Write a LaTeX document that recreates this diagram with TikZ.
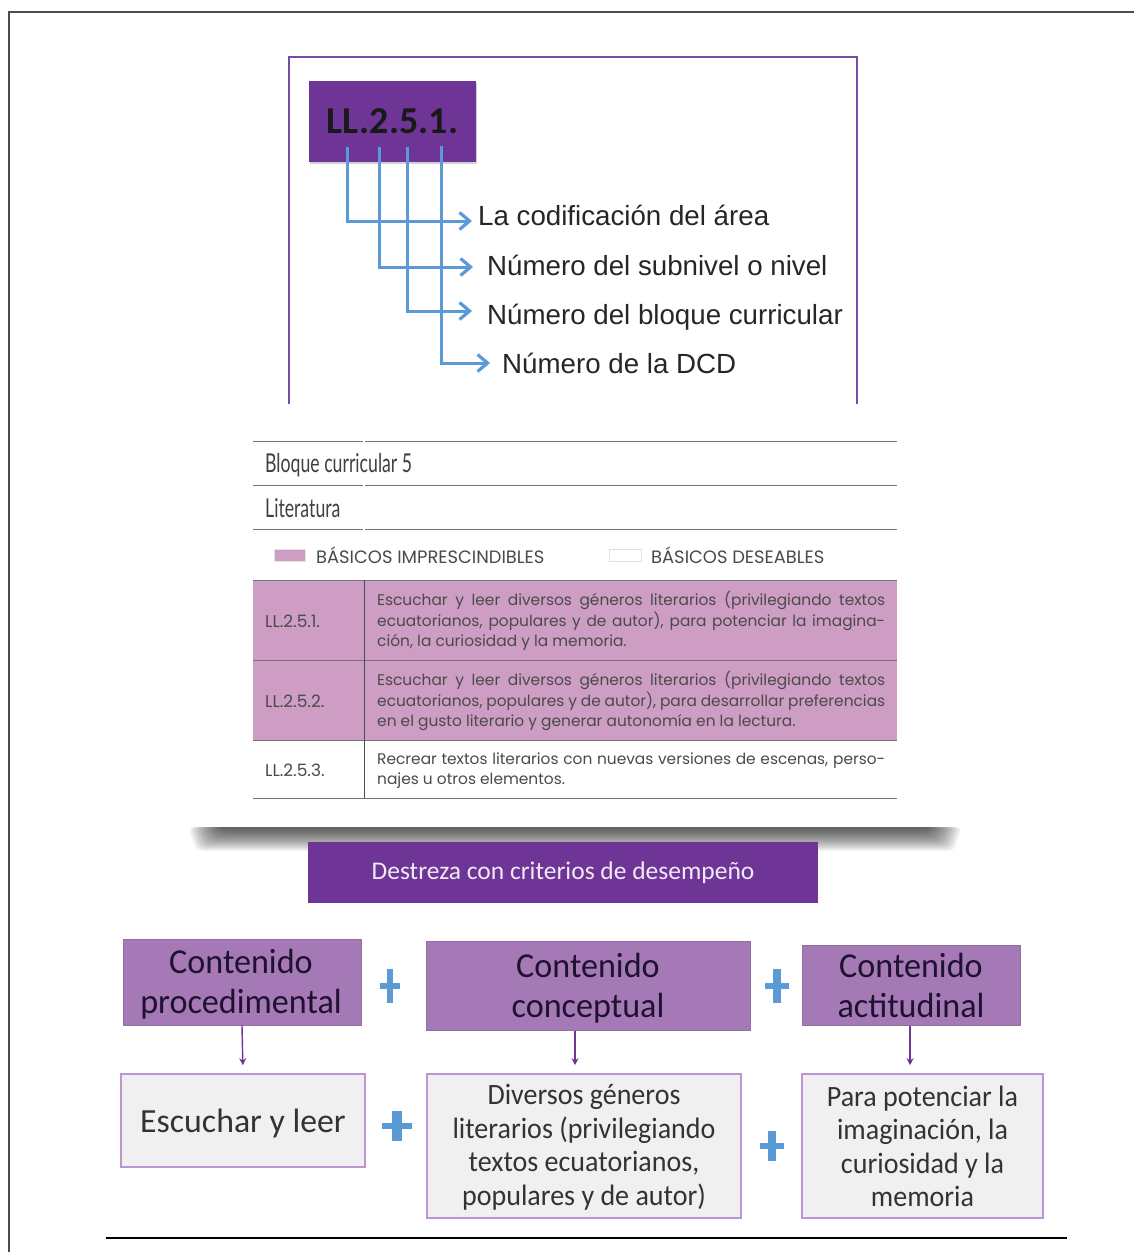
\documentclass[tikz,border=0pt]{standalone}
\usepackage{fontspec}
\setmainfont{Poppins}
\newfontfamily\arialf{Liberation Sans}
\newfontfamily\calf{Carlito}
\newfontfamily\calnarrow[FakeStretch=0.95]{Carlito}
\newfontfamily\calsemi[FakeStretch=0.975]{Carlito}
\newfontfamily\condf[FakeStretch=0.68]{Lato}
\usetikzlibrary{arrows.meta,calc}
\definecolor{purpledeep}{HTML}{6F3596}
\definecolor{purpleframe}{HTML}{7A4BA5}
\definecolor{purplemid}{HTML}{A579B5}
\definecolor{purpleedge}{HTML}{BC95D2}
\definecolor{pinkrow}{HTML}{CD9DC3}
\definecolor{bluelink}{HTML}{5B9BD5}
\definecolor{boxgrey}{HTML}{F0F0F0}
\definecolor{tabletext}{HTML}{4A4A4A}
\definecolor{inkdark}{HTML}{1E1230}
\newcommand{\jl}[1]{\makebox[508pt][s]{#1}\\}
\newcommand{\plusmark}[4]{%
  \fill[bluelink] ($(#1,#2)+(-#3/2,-2.8)$) rectangle ($(#1,#2)+(#3/2,2.8)$);
  \fill[bluelink] ($(#1,#2)+(-#3*0.16,-#4/2)$) rectangle ($(#1,#2)+(#3*0.16,#4/2)$);}
\tikzset{
  x=1pt,y=-1pt,
  bluearrow/.style={draw=bluelink,line width=3pt,-{Straight Barb[length=10pt,width=17pt,line width=3.2pt]}},
  codetext/.style={anchor=west,text=black!85,font=\arialf\fontsize{27.7}{30}\selectfont,inner sep=0pt},
  rule/.style={draw=black!55,line width=1pt},
  headtext/.style={anchor=west,inner sep=0pt,text=black!75,font=\condf\fontsize{26}{30}\selectfont},
  legendtext/.style={anchor=west,inner sep=0pt,text=tabletext,font=\fontsize{17.9}{20}\selectfont},
  celltext/.style={anchor=west,inner sep=0pt,text=tabletext,font=\fontsize{15.4}{20.5}\selectfont,align=left},
  keytext/.style={anchor=west,inner sep=0pt,text=tabletext,font=\fontsize{17}{20}\selectfont},
  upbox/.style={fill=purplemid,draw=purplemid!90!black,line width=1pt,inner sep=0pt},
  uptext/.style={inner sep=0pt,align=center,text=inkdark,font=\calsemi\fontsize{35}{40}\selectfont},
  lowbox/.style={fill=boxgrey,draw=purpleedge,line width=1.6pt,inner sep=0pt},
  lowtext/.style={inner sep=0pt,align=center,text=black!80,font=\calnarrow\fontsize{29.5}{33.5}\selectfont},
  downarrow/.style={draw=purpledeep,line width=1.4pt,-{Stealth[length=7pt,width=7pt]},shorten >=8pt},
}
\begin{document}
\begin{tikzpicture}
\useasboundingbox (0,0) rectangle (1134,1252);
\fill[white] (0,0) rectangle (1134,1252);
% page border
\draw[draw=black!70,line width=2.4pt] (9,1252) -- (9,12) -- (1134,12);
\draw[draw=black,line width=2pt] (106,1238) -- (1067,1238);
% coding figure
\draw[draw=purpleframe,line width=1.8pt] (289,404) -- (289,57) -- (857,57) -- (857,404);
\fill[black!18] (310,83) rectangle (477,164);
\node[fill=purpledeep,minimum width=167pt,minimum height=81pt,inner sep=0pt,font=\calf\bfseries\fontsize{38}{40}\selectfont,text=black!90] (code) at (392.5,121.5) {LL.2.5.1.};
\coordinate (c1) at (347,147);
\coordinate (c2) at (379,147);
\coordinate (c3) at (407,147);
\coordinate (c4) at (441,146);
\node[codetext] (t1) at (478,215) {La codificación del área};
\node[codetext] (t2) at (487,265) {Número del subnivel o nivel};
\node[codetext] (t3) at (487,317) {Número del bloque curricular};
\node[codetext] (t4) at (502,363.5) {Número de la DCD};
\draw[bluearrow] (c1) |- ([xshift=-6pt,yshift=-6pt]t1.west);
\draw[bluearrow] (c2) |- ([xshift=-14pt,yshift=-2pt]t2.west);
\draw[bluearrow] (c3) |- ([xshift=-15pt,yshift=6pt]t3.west);
\draw[bluearrow] (c4) |- ([xshift=-12pt,yshift=0.5pt]t4.west);
% table
\foreach \yy in {441,485,529}{
  \draw[rule] (253,\yy) -- (363,\yy);
  \draw[rule] (365,\yy) -- (897,\yy);
}
\node[headtext] (h1) at (265,465) {Bloque curricular 5};
\node[headtext] (h2) at (265,508) {Literatura};
\fill[pinkrow,draw=black!10] (274,549) rectangle (305,561);
\draw[draw=black!12,line width=1pt] (609,549) rectangle (641,561);
\node[legendtext] (l1) at (316,555) {BÁSICOS IMPRESCINDIBLES};
\node[legendtext] (l2) at (651,555) {BÁSICOS DESEABLES};
\fill[pinkrow] (253,580) rectangle (897,740);
\foreach \yy in {580,660,740,798}{ \draw[rule] (253,\yy) -- (897,\yy); }
\draw[draw=black!70,line width=1pt] (364,580) -- (364,798);
\node[keytext] (k1) at (265,621) {LL.2.5.1.};
\node[keytext] (k2) at (265,701) {LL.2.5.2.};
\node[keytext] (k3) at (265,770) {LL.2.5.3.};
\node[celltext] (v1) at (377,621) {\jl{Escuchar y leer diversos géneros literarios (privilegiando textos}\jl{ecuatorianos, populares y de autor), para potenciar la imagina-}ción, la curiosidad y la memoria.};
\node[celltext] (v2) at (377,701) {\jl{Escuchar y leer diversos géneros literarios (privilegiando textos}\jl{ecuatorianos, populares y de autor), para desarrollar preferencias}en el gusto literario y generar autonomía en la lectura.};
\node[celltext] (v3) at (377,770.5) {\jl{Recrear textos literarios con nuevas versiones de escenas, perso-}najes u otros elementos.};
% shadow band
\foreach \i in {0,...,19}{
  \fill[black,opacity=0.045,rounded corners=5pt] (188+\i*1.6,827) -- (188+\i*1.6+8,851-\i*1.15) -- (962-\i*1.6-8,851-\i*1.15) -- (962-\i*1.6,827) -- cycle;
}
% DCD diagram
\node[fill=purpledeep,minimum width=510pt,minimum height=61pt,inner sep=0pt,text=white!90!purpledeep,font=\calf\fontsize{25.5}{28}\selectfont] (dcd) at (563,872.5) {Destreza con criterios de desempeño};
\node[upbox,minimum width=238pt,minimum height=86pt] (u1) at (242,982) {};
\node[upbox,minimum width=324pt,minimum height=89pt] (u2) at (588,985.5) {};
\node[upbox,minimum width=218pt,minimum height=80pt] (u3) at (911,985) {};
\node[uptext] (u1t) at (241,984) {Contenido\\procedimental};
\node[uptext] (u2t) at (588,988) {Contenido\\conceptual};
\node[uptext] (u3t) at (911,985.5) {Contenido\\actitudinal};
\node[lowbox,minimum width=244pt,minimum height=93pt] (d1) at (243,1120.5) {};
\node[lowbox,minimum width=314pt,minimum height=144pt] (d2) at (584,1146) {};
\node[lowbox,minimum width=241pt,minimum height=144pt] (d3) at (922.5,1146) {};
\node[lowtext] (d2t) at (584,1147) {Diversos géneros\\literarios (privilegiando\\textos ecuatorianos,\\populares y de autor)};
\node[lowtext] (d3t) at (922.5,1146.5) {Para potenciar la\\imaginación, la\\curiosidad y la\\memoria};
\node[inner sep=0pt,text=black!80,font=\calf\fontsize{33.8}{36}\selectfont] (d1t) at (243,1123) {Escuchar y leer};
\draw[downarrow] (u1.south) -- (d1.north);
\draw[downarrow] ([xshift=-13pt]u2.south) -- ([xshift=-9pt]d2.north);
\draw[downarrow] ([xshift=-1pt]u3.south) -- ([xshift=-12.5pt]d3.north);
\plusmark{390}{986}{20}{34}
\plusmark{777}{986}{24}{34}
\plusmark{397}{1126}{30}{30}
\plusmark{772}{1146}{24}{30}
\end{tikzpicture}
\end{document}
